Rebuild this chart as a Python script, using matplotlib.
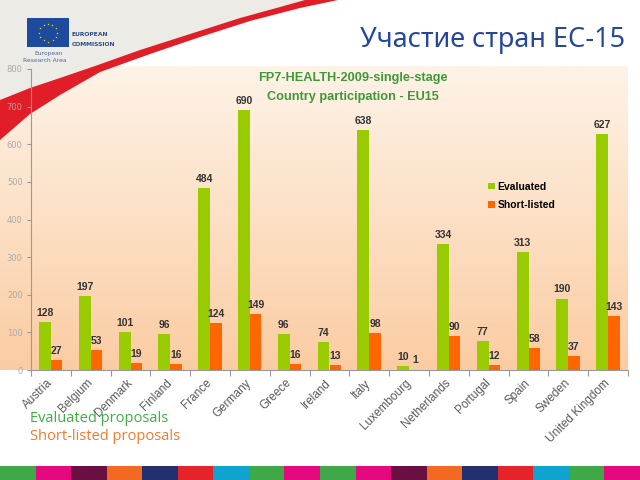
import matplotlib
matplotlib.use('Agg')
import matplotlib.pyplot as plt
import matplotlib.transforms as mtransforms
import numpy as np
from matplotlib.patches import Rectangle, Polygon

countries = ['Austria', 'Belgium', 'Denmark', 'Finland', 'France', 'Germany', 'Greece',
             'Ireland', 'Italy', 'Luxembourg', 'Netherlands', 'Portugal', 'Spain',
             'Sweden', 'United Kingdom']
evaluated = [128, 197, 101, 96, 484, 690, 96, 74, 638, 10, 334, 77, 313, 190, 627]
shortlisted = [27, 53, 19, 16, 124, 149, 16, 13, 98, 1, 90, 12, 58, 37, 143]
yticks = [0, 100, 200, 300, 400, 500, 600, 700, 800]
series_names = ['Evaluated', 'Short-listed']
chart_title = ['FP7-HEALTH-2009-single-stage', 'Country participation - EU15']
heading = 'Участие стран ЕС-15'
notes = ['Evaluated proposals', 'Short-listed proposals']
strip_colors = ['#3fa94a', '#e5097f', '#6a0f42', '#f26a21', '#22306f', '#e4232b',
                '#10a3cf', '#3fa94a', '#e5097f', '#3fa94a', '#e5097f', '#6a0f42',
                '#f26a21', '#22306f', '#e4232b', '#10a3cf', '#3fa94a', '#e5097f']

GREEN = '#99CC00'
ORANGE = '#FF6600'
W, H = 640, 480

fig = plt.figure(figsize=(6.4, 4.8), dpi=100)
fig.patch.set_facecolor('white')

# background decoration axes in pixel coordinates
bg = fig.add_axes([0, 0, 1, 1])
bg.set_xlim(0, W)
bg.set_ylim(H, 0)
bg.axis('off')

# peach gradient panel
g = np.linspace(0, 1, 256).reshape(-1, 1, 1)
top_c = np.array([0xfe, 0xf3, 0xe8]) / 255.0
bot_c = np.array([0xfb, 0xcc, 0xa2]) / 255.0
img = top_c + (bot_c - top_c) * g
bg.imshow(img, extent=(0, 628, 370, 66), aspect='auto', zorder=0, interpolation='bilinear')

# grey corner and red swoosh
ux = np.array([0, 30, 60, 95, 140, 190, 240, 280, 305])
uy = np.array([100, 88, 78, 66, 50, 34, 18, 7, 0])
lx = np.array([0, 30, 60, 100, 150, 200, 250, 300, 338])
ly = np.array([140, 114, 95, 72, 54, 37, 21, 8, 0])
grey_pts = [(0, 0), (305, 0)] + list(zip(ux[::-1], uy[::-1]))
bg.add_patch(Polygon(grey_pts, closed=True, facecolor='#ecebe6', edgecolor='none', zorder=1))
red_pts = list(zip(ux, uy)) + list(zip(lx[::-1], ly[::-1]))
bg.add_patch(Polygon(red_pts, closed=True, facecolor='#e11d27', edgecolor='none', zorder=2))

# EU logo
bg.add_patch(Rectangle((27, 18), 42, 29, facecolor='#1d4a9c', edgecolor='none', zorder=3))
ang = np.linspace(0, 2 * np.pi, 13)[:-1]
bg.scatter(48 + 9 * np.cos(ang), 32.5 + 9 * np.sin(ang), s=3, marker='*',
           color='#ffdd00', zorder=4, linewidths=0)
bg.text(72, 35, 'EUROPEAN', fontsize=4.3, color='#2c4c8c', fontweight='bold',
        va='center', ha='left', family='DejaVu Sans', zorder=4)
bg.text(72, 45, 'COMMISSION', fontsize=4.3, color='#2c4c8c', fontweight='bold',
        va='center', ha='left', family='DejaVu Sans', zorder=4)
bg.text(49, 53, 'European', fontsize=4.3, color='#4a6a9a', va='center', ha='center',
        family='DejaVu Sans', zorder=4)
bg.text(45, 61, 'Research Area', fontsize=4.3, color='#4a6a9a', va='center', ha='center',
        family='DejaVu Sans', zorder=4)

# heading
bg.text(625, 39.5, heading, fontsize=19.5, color='#26489a', ha='right', va='center',
        family=['Noto Sans', 'DejaVu Sans'], zorder=4)

# bottom strip
bw = W / len(strip_colors)
for i, c in enumerate(strip_colors):
    bg.add_patch(Rectangle((i * bw, 466), bw + 0.5, 14, facecolor=c, edgecolor='none', zorder=3))

# notes
bg.text(30, 418, notes[0], fontsize=10.5, color='#3cb043', ha='left', va='center',
        family='Open Sans', zorder=4)
bg.text(30, 437, notes[1], fontsize=10.5, color='#f07a2e', ha='left', va='center',
        family='Open Sans', zorder=4)

# chart title
bg.text(353, 78, chart_title[0], fontsize=9.2, fontweight='bold', color='#3e9a36',
        ha='center', va='center', family='Liberation Sans', zorder=4)
bg.text(353, 97, chart_title[1], fontsize=9.2, fontweight='bold', color='#3e9a36',
        ha='center', va='center', family='Liberation Sans', zorder=4)

# main chart axes
ax = fig.add_axes([31 / W, 1 - 370 / H, (628 - 31) / W, (370 - 69) / H])
ax.set_facecolor('none')
n = len(countries)
x = np.arange(n) + 0.5
b1 = ax.bar(x - 0.15, evaluated, width=0.3, color=GREEN, zorder=3, label=series_names[0])
b2 = ax.bar(x + 0.145, shortlisted, width=0.29, color=ORANGE, zorder=3, label=series_names[1])
for xi, v in zip(x - 0.15, evaluated):
    ax.annotate(str(v), (xi, v), xytext=(0, 3), textcoords='offset points', ha='center',
                va='bottom', fontsize=7.5, fontweight='bold', color='#333333',
                family='Liberation Sans')
for xi, v in zip(x + 0.145, shortlisted):
    ax.annotate(str(v), (xi, v), xytext=(0, 3), textcoords='offset points', ha='center',
                va='bottom', fontsize=7.5, fontweight='bold', color='#333333',
                family='Liberation Sans')

ax.set_xlim(0, n)
ax.set_ylim(0, 800)
ax.set_yticks(yticks)
ax.set_yticklabels([str(t) for t in yticks], fontsize=6, color='#aaaaaa')
ax.set_xticks(np.arange(n + 1))
ax.set_xticklabels([])
ax.set_xticks(x, minor=True)
ax.set_xticklabels(countries, minor=True, rotation=45, ha='right', va='center',
                   rotation_mode='anchor', fontsize=8.5, color='#5a5a5a',
                   family='Liberation Sans')
shift = mtransforms.ScaledTranslation(-5 / 100, 0, fig.dpi_scale_trans)
for lab in ax.get_xticklabels(minor=True):
    lab.set_transform(lab.get_transform() + shift)
ax.tick_params(axis='x', which='minor', length=0, pad=8)
ax.tick_params(axis='x', which='major', length=4, color='#999999', direction='out')
ax.tick_params(axis='y', length=3, color='#999999', direction='out', pad=3)
for s in ['top', 'right']:
    ax.spines[s].set_visible(False)
for s in ['left', 'bottom']:
    ax.spines[s].set_color('#999999')
    ax.spines[s].set_linewidth(0.8)

ax.legend(handles=[b1, b2], loc='center left', bbox_to_anchor=(479 / W, 1 - 196 / H),
          bbox_transform=fig.transFigure, frameon=False,
          handlelength=0.6, handleheight=0.6, handletextpad=0.3, labelspacing=0.8,
          prop={'weight': 'bold', 'size': 7.5, 'family': 'Liberation Sans'})

fig.savefig('out.png', dpi=100)
